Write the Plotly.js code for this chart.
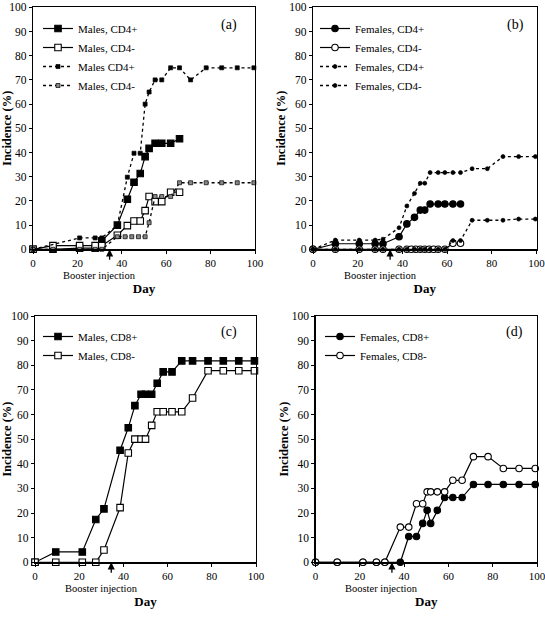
<!DOCTYPE html>
<html>
<head>
<meta charset="utf-8">
<script src="https://cdn.plot.ly/plotly-3.0.1.min.js"></script>
<style>html,body{margin:0;padding:0;background:#fff;}#chart{width:545px;height:618px;}</style>
</head>
<body>
<div id="chart"></div>
<script>
// ---------- Panel (a): males, CD4 ----------
var daysA = [0, 9, 21, 28, 31, 38, 42.5, 45.5, 48.3, 50.5, 52.3, 55, 58, 62, 66];
var maleCD4pSolid = [0, 0, 0.5, 0.5, 3.5, 10, 20.7, 27.7, 31.3, 38.3, 41.7, 43.8, 43.8, 43.8, 45.7];
var maleCD4mSolid = [0, 1.5, 1.5, 1.5, 1.5, 5.8, 9.8, 11.7, 11.7, 16, 21.8, 19.7, 19.7, 23.6, 23.6];
var daysAdashP = [0, 21, 28, 31, 38, 42.5, 45.5, 48.3, 50.5, 52.3, 55, 58, 62, 66, 71, 78, 85, 92, 99.5];
var maleCD4pDash = [0, 4.7, 4.7, 4.7, 10, 29.8, 39.7, 39.7, 60, 65, 70, 70, 75, 75, 70, 75, 75, 75, 75];
var daysAdashM = [0, 9, 21, 28, 31, 38, 41.5, 44.5, 47.5, 50.5, 52.3, 55, 58, 62, 66, 71, 78, 85, 92, 99.5];
var maleCD4mDash = [0, 0, 0, 0, 0, 5.2, 5.2, 5.2, 5.2, 5.2, 11, 21.8, 21.8, 21.8, 27.5, 27.5, 27.5, 27.5, 27.5, 27.5];

// ---------- Panel (b): females, CD4 ----------
var daysBp = [0, 10, 20.7, 27.8, 31.3, 38.5, 42, 45.4, 48, 50, 52.4, 56, 59, 62.6, 66];
var femCD4pSolid = [0, 2.3, 2.3, 2.3, 2.3, 5.2, 10.5, 13.2, 16.2, 16.2, 18.7, 18.7, 18.7, 18.7, 18.7];
var daysBm = [0, 10, 20.7, 27.8, 31.3, 38.5, 42, 44, 46, 48, 50, 52, 54, 56, 59, 62.6, 66];
var femCD4mSolid = [0, 0, 0, 0, 0, 0, 0, 0, 0, 0, 0, 0, 0, 0, 0, 2.5, 2.5];
var daysBdash = [0, 10, 20.7, 27.8, 31.3, 38.5, 42, 45.4, 48, 50, 52.4, 56, 59, 62.6, 66, 71.2, 78, 85, 92, 99.5];
var femCD4pDash = [0, 3.8, 3.8, 3.8, 4.2, 8.9, 17.9, 23.1, 27.3, 27.3, 31.7, 31.7, 31.7, 31.7, 31.7, 33.3, 33.3, 38.3, 38.3, 38.3];
var femCD4mDash = [0, 0, 0, 0, 0, 0, 0, 0, 0, 0, 0, 0, 0, 3.6, 3.6, 12, 12, 12, 12.5, 12.5];

// ---------- Panel (c): males, CD8 ----------
var daysC = [0, 9.4, 21.4, 27.5, 31.2, 38.5, 42.2, 45.2, 48, 50, 52.8, 55.3, 58, 62, 66.4, 71.3, 78.3, 85.2, 92.2, 99.3];
var maleCD8p = [0, 4.2, 4.2, 17.4, 21.7, 45.5, 54.6, 63.6, 68.2, 68.2, 68.2, 72.7, 77.3, 77.3, 81.8, 81.8, 81.8, 81.8, 81.8, 81.8];
var maleCD8m = [0, 0, 0, 0, 5, 22.2, 44.4, 50, 50, 50, 55.6, 61.1, 61.1, 61.1, 61.1, 66.7, 77.8, 77.8, 77.8, 77.8];

// ---------- Panel (d): females, CD8 ----------
var daysD = [0, 9.8, 21.4, 27.5, 31.3, 38.3, 42.1, 45.6, 48.4, 50.4, 52, 55, 58.3, 62, 66.2, 71.3, 77.9, 84.8, 91.9, 99.2];
var femCD8p = [0, 0, 0, 0, 0, 0, 10.5, 10.5, 15.8, 21.1, 15.8, 21.1, 26.3, 26.3, 26.3, 31.6, 31.6, 31.6, 31.6, 31.6];
var femCD8m = [0, 0, 0, 0, 0, 14.3, 14.3, 23.8, 23.8, 28.6, 28.6, 28.6, 28.6, 33.3, 33.3, 42.9, 42.9, 38.1, 38.1, 38.1];

var panelLabels = ['(a)', '(b)', '(c)', '(d)'];
var xTickVals = [0, 20, 40, 60, 80, 100];
var yTickVals = [0, 10, 20, 30, 40, 50, 60, 70, 80, 90, 100];
var boosterDay = 34.5;

var FONT = "'Liberation Serif', 'Times New Roman', Times, serif";
var W = 545, H = 618;
function px(p){return p / W;}
function py(p){return 1 - p / H;}

function solid(x, y, name, ax, leg, sym, filled){
  return {x:x, y:y, name:name, xaxis:'x'+ax, yaxis:'y'+ax, legend:leg, type:'scatter',
    mode:'lines+markers', cliponaxis:false,
    line:{color:'#000', width:1.2},
    marker:{symbol:sym, size:6.5, color: filled ? '#000' : '#fff', line:{color:'#000', width:1.1}}};
}
function dashed(x, y, name, ax, leg, sym, fill){
  return {x:x, y:y, name:name, xaxis:'x'+ax, yaxis:'y'+ax, legend:leg, type:'scatter',
    mode:'lines+markers', cliponaxis:false,
    line:{color:'#000', width:1.3, dash:'3px,3px'},
    marker:{symbol:sym, size:4, color:fill, line:{color:'#000', width:0.7}}};
}

var traces = [
  solid(daysA, maleCD4pSolid, 'Males, CD4+', '', 'legend', 'square', true),
  solid(daysA, maleCD4mSolid, 'Males, CD4-', '', 'legend', 'square', false),
  dashed(daysAdashP, maleCD4pDash, 'Males CD4+', '', 'legend', 'square', '#000'),
  dashed(daysAdashM, maleCD4mDash, 'Males, CD4-', '', 'legend', 'square', '#888'),

  solid(daysBp, femCD4pSolid, 'Females, CD4+', '2', 'legend2', 'circle', true),
  solid(daysBm, femCD4mSolid, 'Females, CD4-', '2', 'legend2', 'circle', false),
  dashed(daysBdash, femCD4pDash, 'Females, CD4+', '2', 'legend2', 'circle', '#000'),
  dashed(daysBdash, femCD4mDash, 'Females, CD4-', '2', 'legend2', 'circle', '#000'),

  solid(daysC, maleCD8p, 'Males, CD8+', '3', 'legend3', 'square', true),
  solid(daysC, maleCD8m, 'Males, CD8-', '3', 'legend3', 'square', false),

  solid(daysD, femCD8p, 'Females, CD8+', '4', 'legend4', 'circle', true),
  solid(daysD, femCD8m, 'Females, CD8-', '4', 'legend4', 'circle', false)
];

// panel geometry in pixels: [left, right, top, bottom]
var boxes = [[33, 255, 7.3, 249.3], [313, 536.5, 7.3, 249.3], [35, 256, 316, 562.3], [315.5, 537, 316, 562.3]];

function xa(box){
  return {domain:[px(box[0]), px(box[1])], range:[0, 100], tickvals:xTickVals, ticks:'outside', ticklen:3,
    tickwidth:1, tickcolor:'#000', showline:true, linecolor:'#000', linewidth:1.2, mirror:true,
    showgrid:false, zeroline:false, automargin:false, fixedrange:true, ticklabeloverflow:'allow',
    tickfont:{family:FONT, size:11, color:'#000'},
    title:{text:'Day', standoff:16, font:{family:FONT, size:13, color:'#000', weight:'bold'}}};
}
function ya(box, anchor){
  return {domain:[py(box[3]), py(box[2])], range:[0, 100], tickvals:yTickVals, ticks:'outside', ticklen:3,
    tickwidth:1, tickcolor:'#000', showline:true, linecolor:'#000', linewidth:1.2, mirror:true,
    showgrid:false, zeroline:false, automargin:false, fixedrange:true, anchor:anchor, ticklabeloverflow:'allow',
    tickfont:{family:FONT, size:11.5, color:'#000'},
    title:{text:'Incidence (%)', standoff:0, font:{family:FONT, size:12.5, color:'#000', weight:'bold'}}};
}

function legendAt(xp, yp){
  return {x:px(xp), y:py(yp), xanchor:'left', yanchor:'top', bgcolor:'rgba(0,0,0,0)', borderwidth:0,
    font:{family:FONT, size:11, color:'#000'}, tracegroupgap:0, itemclick:false, itemdoubleclick:false};
}

var annotations = [];
var labelPos = [[229, 25], [515, 25], [229, 332], [514, 332]];
var xrefs = ['x', 'x2', 'x3', 'x4'];
var yrefs = ['y', 'y2', 'y3', 'y4'];
for (var i = 0; i < 4; i++){
  annotations.push({text:panelLabels[i], xref:'paper', yref:'paper', x:px(labelPos[i][0]), y:py(labelPos[i][1]),
    xanchor:'center', yanchor:'middle', showarrow:false, font:{family:FONT, size:14, color:'#000'}});
  annotations.push({text:'', xref:xrefs[i], yref:yrefs[i], x:boosterDay, y:0, ax:0, ay:12,
    showarrow:true, arrowhead:2, arrowsize:1.1, arrowwidth:1.3, arrowcolor:'#000'});
  annotations.push({text:'Booster injection', xref:xrefs[i], yref:'paper', x:boosterDay,
    y:py(boxes[i][3] + 26), xshift:-10, xanchor:'center', yanchor:'middle', showarrow:false,
    borderpad:0, font:{family:FONT, size:10.5, color:'#000'}});
}

var layout = {
  width:W, height:H, autosize:false,
  margin:{l:0, r:0, t:0, b:0},
  paper_bgcolor:'#fff', plot_bgcolor:'#fff',
  font:{family:FONT, color:'#000'},
  showlegend:true,
  xaxis:xa(boxes[0]), yaxis:ya(boxes[0], 'x'),
  xaxis2:xa(boxes[1]), yaxis2:ya(boxes[1], 'x2'),
  xaxis3:xa(boxes[2]), yaxis3:ya(boxes[2], 'x3'),
  xaxis4:xa(boxes[3]), yaxis4:ya(boxes[3], 'x4'),
  legend:legendAt(38, 14),
  legend2:legendAt(315, 14),
  legend3:legendAt(38, 322),
  legend4:legendAt(320, 322),
  annotations:annotations
};
layout.xaxis.anchor = 'y'; layout.xaxis2.anchor = 'y2'; layout.xaxis3.anchor = 'y3'; layout.xaxis4.anchor = 'y4';

Plotly.newPlot('chart', traces, layout, {displayModeBar:false, staticPlot:true});
</script>
</body>
</html>
